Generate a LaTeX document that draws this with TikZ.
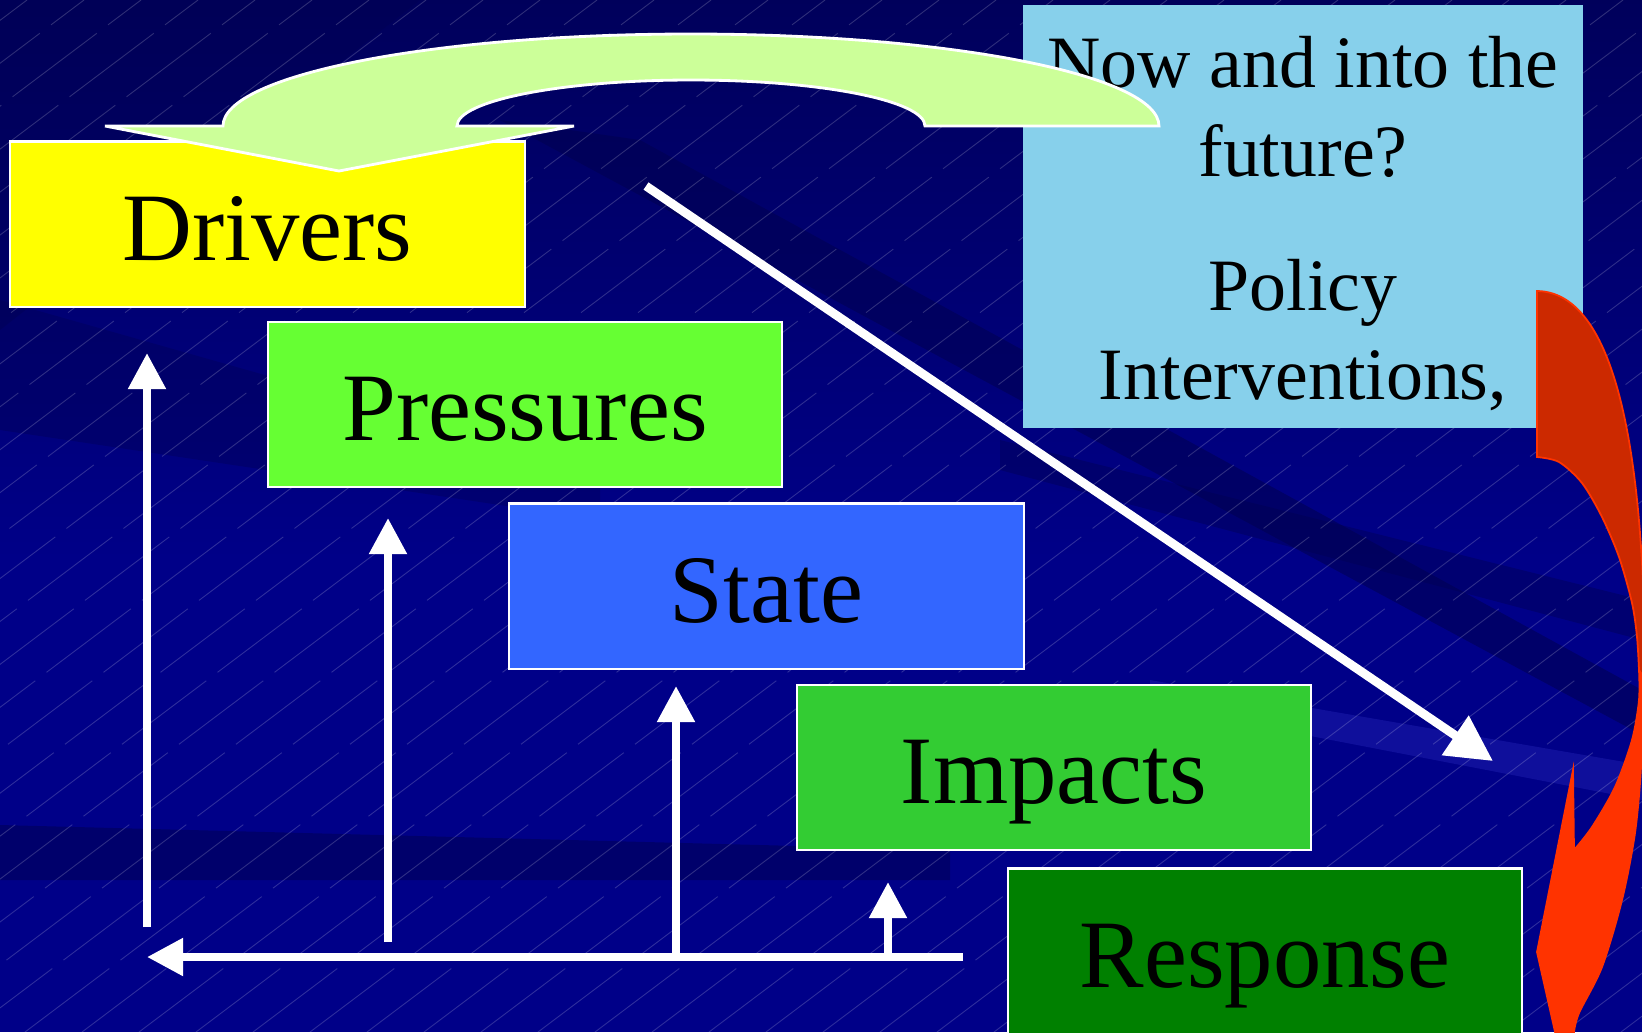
\documentclass[tikz,border=0pt]{standalone}
\usepackage{fontspec}
\setmainfont{Liberation Serif}
\usepackage{xcolor}
\usepackage{tikz}
\usetikzlibrary{arrows.meta}
\definecolor{slidenavy}{RGB}{0,0,136}
\definecolor{bandnavy}{RGB}{0,0,80}
\definecolor{glownavy}{RGB}{30,30,175}
\definecolor{driversbg}{RGB}{255,255,0}
\definecolor{pressuresbg}{RGB}{102,255,51}
\definecolor{statebg}{RGB}{51,102,255}
\definecolor{impactsbg}{RGB}{51,204,51}
\definecolor{responsebg}{RGB}{0,128,0}
\definecolor{futurebg}{RGB}{135,208,235}
\definecolor{turnbg}{RGB}{204,255,153}
\definecolor{policydark}{RGB}{204,41,0}
\definecolor{policyred}{RGB}{255,51,0}

\begin{document}
\begin{tikzpicture}[x=0.01cm, y=0.01cm,
    stage/.style={draw=white, line width=0.6pt, minimum width=5.14cm, minimum height=1.65cm,
        inner sep=0pt, text height=20.5pt, text depth=0pt, font=\fontsize{27.5}{33}\selectfont},
    flow/.style={draw=white, line width=2.3pt, -{Triangle[length=10.3pt,width=10.3pt]}},
    bigflow/.style={draw=white, line width=2.5pt, -{Triangle[length=13pt,width=13pt]}}]
    % Frame
    \useasboundingbox (0,0) rectangle (1642,-1032);
    \clip (0,0) rectangle (1642,-1032);

    % Background
    \fill[slidenavy] (0,0) rectangle (1642,-1032);
    \shade[top color=bandnavy!80!slidenavy, bottom color=slidenavy] (0,0) rectangle (1642,-560);
    \fill[bandnavy, opacity=0.35] (0,0) -- (420,0) -- (0,-330) -- cycle;
    \fill[bandnavy, opacity=0.35] (0,-300) -- (600,-470) -- (600,-520) -- (0,-430) -- cycle;
    \fill[bandnavy, opacity=0.55] (500,-120) -- (640,-140) -- (1642,-690) -- (1642,-735) -- cycle;
    \fill[bandnavy, opacity=0.4] (1000,-440) -- (1642,-600) -- (1642,-640) -- (1000,-470) -- cycle;
    \fill[bandnavy, opacity=0.5] (0,-825) -- (950,-850) -- (950,-880) -- (0,-880) -- cycle;
    \fill[glownavy, opacity=0.5] (1150,-680) -- (1642,-765) -- (1642,-800) -- (1150,-705) -- cycle;

    % Hatching
    \foreach \x in {-1400,-1343,...,1642}
        \draw[white, opacity=0.18, line width=0.25pt, dash pattern=on 30pt off 4pt] (\x,-1032) -- ++(1370,1032);

    % DPSIR boxes
    \node[stage, fill=driversbg] (drivers) at (267.5,-224) {Drivers};
    \node[stage, fill=pressuresbg] (pressures) at (525,-404.5) {Pressures};
    \node[stage, fill=statebg] (state) at (766.5,-586) {State};
    \node[stage, fill=impactsbg] (impacts) at (1054,-767.5) {Impacts};
    \node[stage, fill=responsebg] (response) at (1265,-951) {Response};

    % Question box
    \node[fill=futurebg, minimum width=5.6cm, minimum height=4.23cm, inner sep=0pt, align=center,
        font=\fontsize{21}{25.3}\selectfont] (future) at (1303,-216.5)
        {\rule{0pt}{18.5pt}Now and into the\\future?\\[13pt]Policy\\Interventions,};

    % Curved arrow back to drivers
    \draw[fill=turnbg, draw=white, line width=0.8pt] (105,-126) -- (223,-126)
        arc[start angle=180, end angle=0, x radius=468, y radius=92] -- (925,-126)
        arc[start angle=0, end angle=180, x radius=234, y radius=46] -- (574,-126) -- (339,-171) -- cycle;

    % Diagonal arrow
    \coordinate (turnfrom) at (646,-186);
    \coordinate (turnto) at (1493,-761);
    \draw[bigflow] (turnfrom) -- (turnto);

    % Feedback line and arrows
    \coordinate (loopstart) at (963,-957);
    \coordinate (loopend) at (147,-957);
    \draw[flow] (loopstart) -- (loopend);
    \foreach \name/\x/\ybot/\ytop in {todrivers/147/927/353, topressures/388/942/518,
                                      tostate/676/957/686, toimpacts/888/957/882} {
        \coordinate (\name-from) at (\x,-\ybot);
        \coordinate (\name-to) at (\x,-\ytop);
        \draw[flow] (\name-from) -- (\name-to);
    }

    % Policy arrow on the right
    \filldraw[fill=policydark, draw=policyred, line width=0.5pt]
        (1537,-291) .. controls (1610,-292) and (1645,-430) .. (1645,-680)
        -- plot[smooth] coordinates {(1639,-670) (1637,-637) (1632,-603) (1619,-557) (1602,-517)
            (1582,-483) (1559,-462) (1537,-457)}
        -- cycle;
    \filldraw[fill=policyred, draw=policyred, line width=0.5pt]
        plot[smooth] coordinates {(1645,-680) (1642,-700) (1641,-767) (1635,-833) (1622,-900)
            (1602,-967) (1579,-1013) (1574,-1032)}
        -- (1574,-1045) -- (1558,-1045) -- (1537,-952) -- (1573,-770) -- (1574,-850)
        -- plot[smooth] coordinates {(1574,-850) (1592,-827) (1615,-787) (1632,-740) (1639,-700) (1639,-670)}
        -- cycle;
\end{tikzpicture}
\end{document}
